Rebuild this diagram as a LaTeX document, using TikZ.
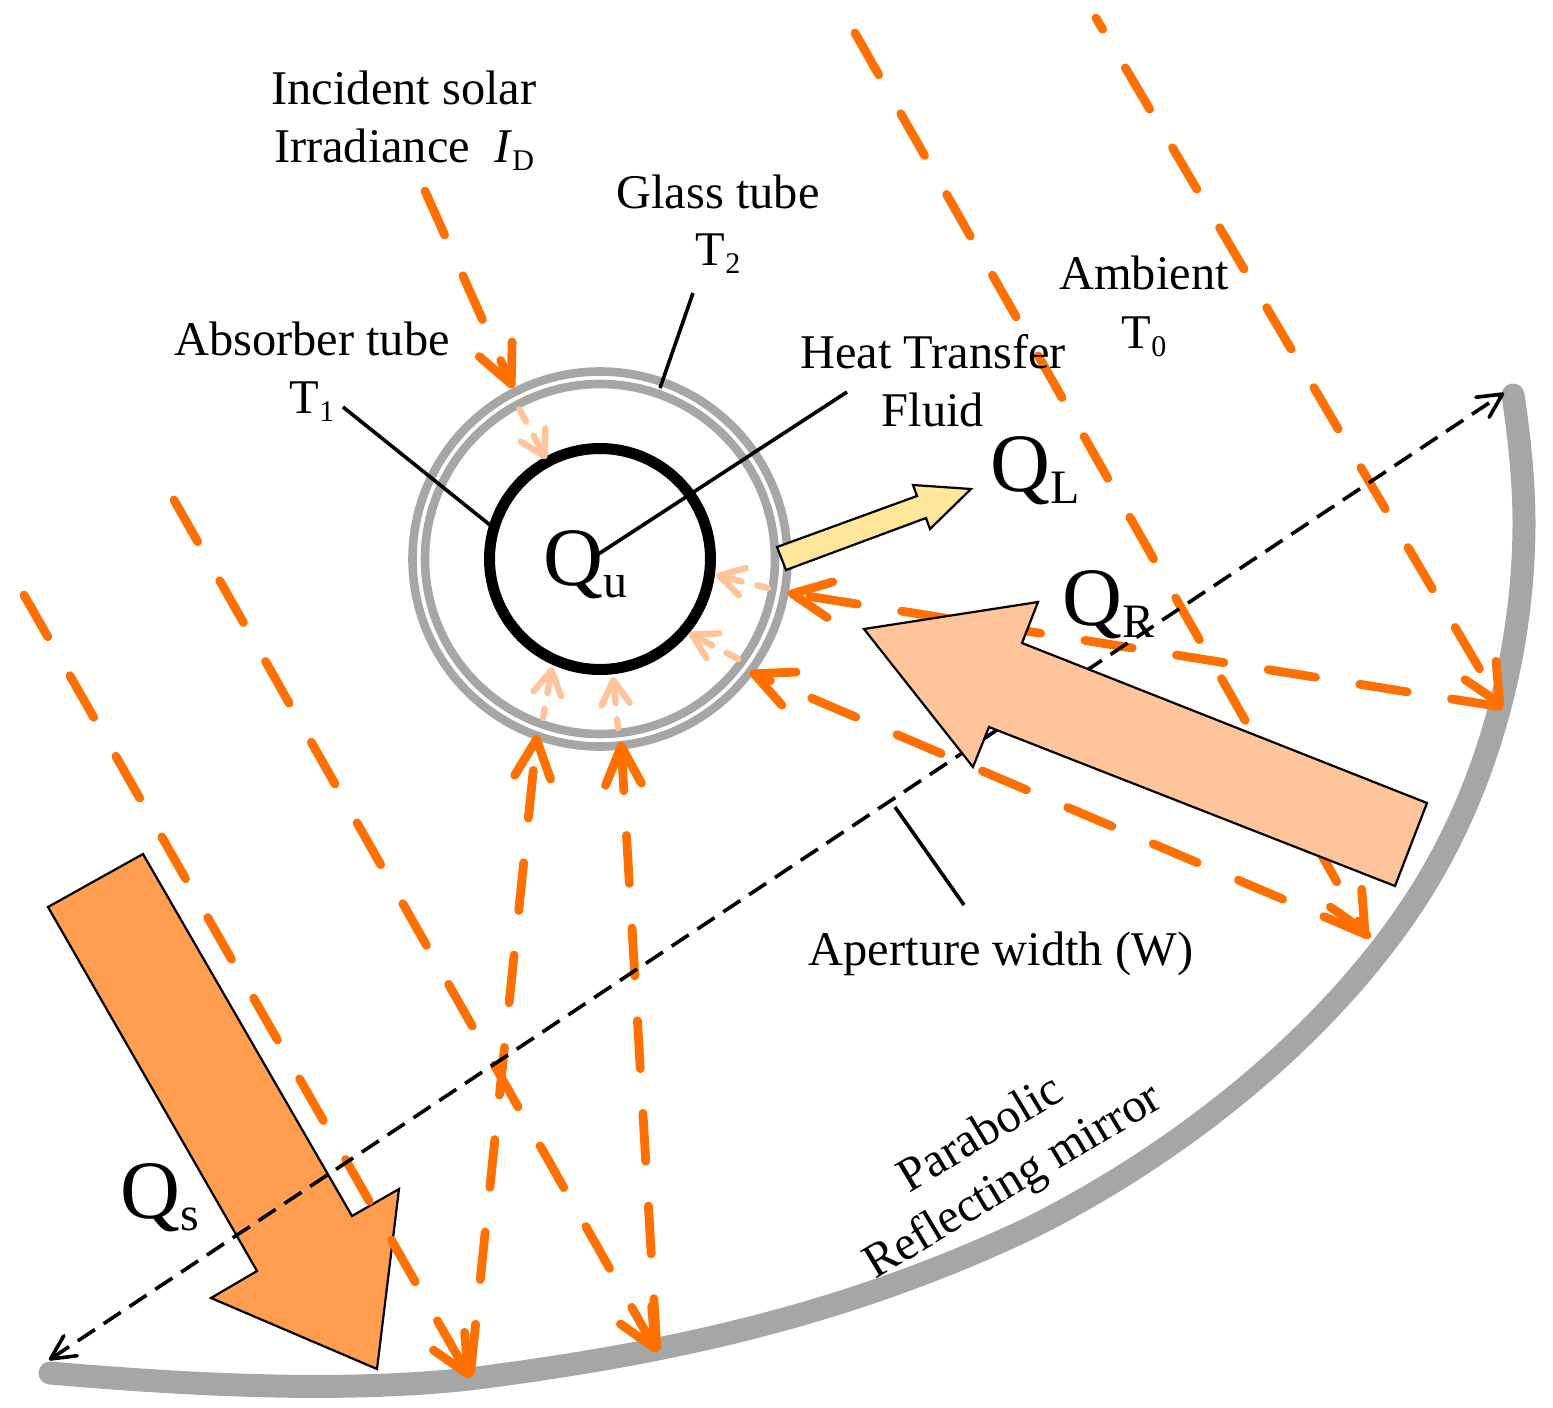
\documentclass[tikz,border=0pt]{standalone}
\usepackage{fontspec}
\setmainfont{Liberation Serif}
\usetikzlibrary{arrows.meta}
\definecolor{rayc}{HTML}{FF7000}
\definecolor{mirc}{HTML}{A6A6A6}
\definecolor{qsc}{HTML}{FF9E50}
\definecolor{qrc}{HTML}{FFC499}
\definecolor{qlc}{HTML}{FFE699}
\newcommand{\smsub}[1]{\raisebox{-0.18em}{\fontsize{15}{15}\selectfont #1}}
\newcommand{\bigsub}[1]{\raisebox{-6pt}{\fontsize{24}{24}\selectfont #1}}
\tikzset{
  lbl/.style={font=\fontsize{24.2}{24.2}\selectfont,anchor=base,inner sep=0pt},
  biglbl/.style={font=\fontsize{41.5}{41.5}\selectfont,anchor=base west,inner sep=0pt},
  bigarrow/.style={draw=black,line width=1.1pt,line join=miter},
  leader/.style={draw=black,line width=1.8pt},
  orangeline/.style={draw=rayc,line width=4.4pt,line cap=round,dash pattern=on 24pt off 22.4pt},
  incoming/.style={orangeline,-{Straight Barb[length=19pt,width=18pt,round]}},
  reflected/.style={orangeline,{Straight Barb[length=19pt,width=18pt,round]}-},
  lightray/.style={draw=qrc,line width=3.2pt,line cap=round,dash pattern=on 10pt off 8pt on 7pt off 100pt,{Straight Barb[length=12pt,width=14pt,round]}-},
  aperture/.style={draw=black,line width=1.8pt,dash pattern=on 10.25pt off 5.25pt,{Straight Barb[length=12pt,width=12pt,round]}-{Straight Barb[length=12pt,width=12pt,round]}},
  mirror/.style={draw=mirc,line width=11.5pt,line cap=round,line join=round},
  ring/.style={circle,draw=mirc,line width=4.3pt,inner sep=0pt,outer sep=0pt}
}
\begin{document}
\begin{tikzpicture}[x=0.5pt,y=-0.5pt]
\useasboundingbox (0,0) rectangle (1553,1408);
% ray end points
\coordinate (r1s) at (855,33);   \coordinate (r1t) at (1367,935);
\coordinate (r2s) at (1096,18);  \coordinate (r2t) at (1502,707);
\coordinate (r3s) at (174,500);  \coordinate (r3t) at (657,1352);
\coordinate (r4s) at (24,595);   \coordinate (r4t) at (470,1378);
\coordinate (r5s) at (425,191);  \coordinate (r5t) at (513,388);
\coordinate (p1t) at (537,735);  \coordinate (p2t) at (621,742);
\coordinate (p3t) at (788,593);  \coordinate (p4t) at (750,672);
\coordinate (ap1) at (49,1360);  \coordinate (ap2) at (1504,393);
% mirror
\draw[mirror] (50,1373) .. controls (190,1385) and (340,1393) .. (469,1379)
  .. controls (659,1355) and (840,1318) .. (1030,1228)
  .. controls (1182,1152) and (1335,1031) .. (1424,887)
  .. controls (1492,776) and (1524,643) .. (1524,523)
  .. controls (1524,480) and (1519,435) .. (1513,395);
% tube
\node[ring,minimum size=187.5pt] (outerTube) at (600,559) {};
\node[ring,minimum size=175pt] (glassTube) at (600,559) {};
\node[circle,draw=black,line width=5.5pt,inner sep=0pt,outer sep=0pt,minimum size=110.5pt] (absorber) at (600,559) {};
% Qs arrow
\filldraw[bigarrow,fill=qsc] (143,854) -- (352,1216) -- (399,1189) -- (377,1369) -- (211,1298) -- (257,1271) -- (48,907) -- cycle;
% rays
\draw[incoming] (r1s) -- (r1t);
\draw[incoming,dash phase=17.5pt] (r2s) -- (r2t);
\draw[incoming] (r3s) -- (r3t);
\draw[incoming] (r4s) -- (r4t);
\draw[incoming] (r5s) -- (r5t);
\draw[reflected,dash phase=33pt] (p1t) -- (r4t);
\draw[reflected,dash phase=4pt] (p2t) -- (r3t);
\draw[reflected,dash phase=39.7pt] (p3t) -- (r2t);
\draw[reflected,dash phase=17.3pt] (p4t) -- (r1t);
% light rays
\coordinate (l1s) at (517,405); \coordinate (l1t) at (546,459);
\coordinate (l2s) at (768,588); \coordinate (l2t) at (716,575);
\coordinate (l3s) at (738,659); \coordinate (l3t) at (689,633);
\coordinate (l4s) at (543,718); \coordinate (l4t) at (552,667);
\coordinate (l5s) at (618,728); \coordinate (l5t) at (613,677);
\draw[lightray] (l1t) -- (l1s);
\draw[lightray] (l2t) -- (l2s);
\draw[lightray] (l3t) -- (l3s);
\draw[lightray] (l4t) -- (l4s);
\draw[lightray] (l5t) -- (l5s);
% aperture
\draw[aperture] (ap1) -- (ap2);
% Qr and Ql arrows
\filldraw[bigarrow,fill=qrc] (864,629) -- (1038,602) -- (1022,643) -- (1427,803) -- (1395,886) -- (989,727) -- (973,767) -- cycle;
\filldraw[bigarrow,fill=qlc] (777,547) -- (917,496) -- (913,485) -- (971,489) -- (930,529) -- (926,518) -- (786,570) -- cycle;
% leaders
\coordinate (g1) at (693,293); \coordinate (g2) at (660,388);
\coordinate (a1) at (343,407); \coordinate (a2) at (490,525);
\coordinate (h1) at (847,392); \coordinate (h2) at (597,555);
\coordinate (w1) at (895,807); \coordinate (w2) at (964,905);
\draw[leader] (g1) -- (g2);
\draw[leader] (a1) -- (a2);
\draw[leader] (h1) -- (h2);
\draw[leader] (w1) -- (w2);
% labels
\node[lbl] (t1) at (404,104) {Incident solar};
\node[lbl] (t2) at (404,162) {Irradiance\ \ \textit{I}\smsub{D}};
\node[lbl] (t3) at (718,208) {Glass tube};
\node[lbl] (t4) at (718,265) {T\smsub{2}};
\node[lbl] (t5) at (312,355) {Absorber tube};
\node[lbl] (t6) at (312,413) {T\smsub{1}};
\node[lbl] (t7) at (933,368) {Heat Transfer};
\node[lbl] (t8) at (933,426) {Fluid};
\node[lbl] (t9) at (1144,289) {Ambient};
\node[lbl] (t10) at (1144,348) {T\smsub{0}};
\node[lbl] (t11) at (1001,965) {Aperture width (W)};
\node[lbl,rotate=31] (t12) at (988,1146) {Parabolic};
\node[lbl,rotate=31] (t13) at (1020,1193) {Reflecting mirror};
\node[biglbl] (ql) at (990,491) {Q\bigsub{L}};
\node[biglbl] (qu) at (543,585) {Q\bigsub{u}};
\node[biglbl] (qr) at (1062,625) {Q\bigsub{R}};
\node[biglbl] (qs) at (120,1218) {Q\bigsub{s}};
\end{tikzpicture}
\end{document}
